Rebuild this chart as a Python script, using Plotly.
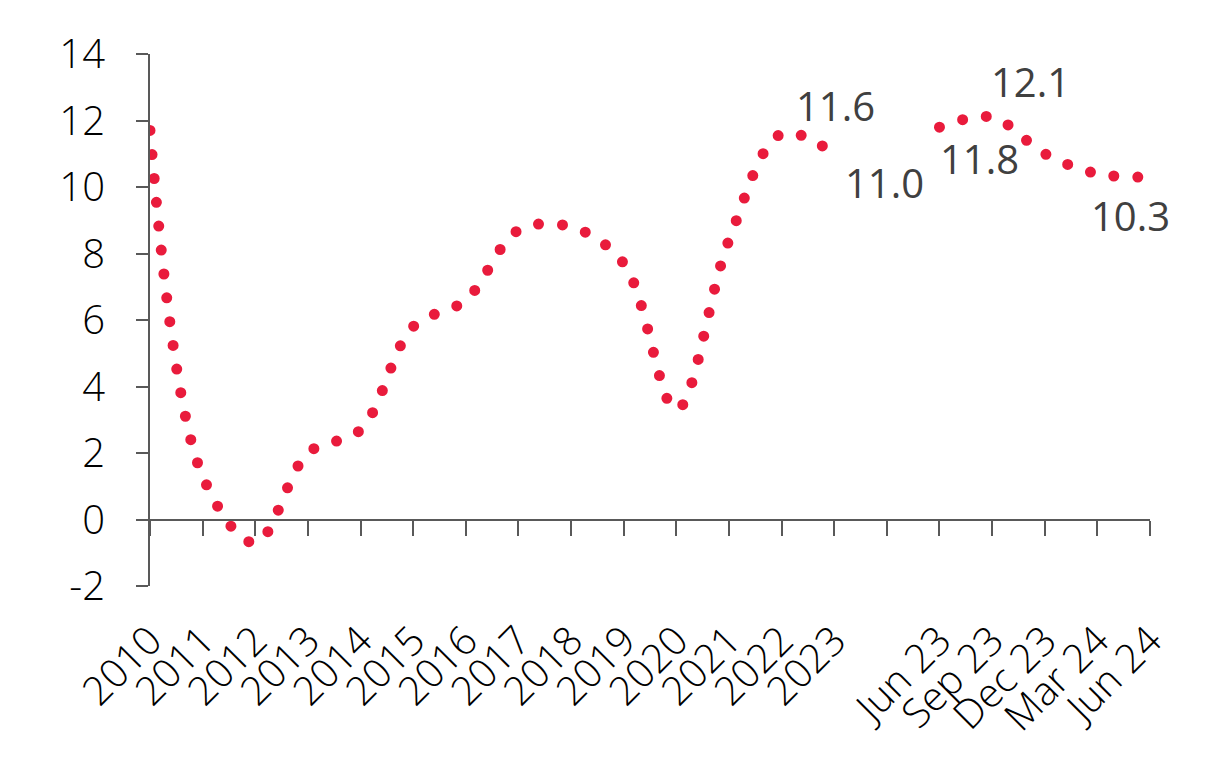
import plotly.graph_objects as go

categories = ["2010", "2011", "2012", "2013", "2014", "2015", "2016", "2017", "2018",
              "2019", "2020", "2021", "2022", "2023", "", "Jun 23", "Sep 23",
              "Dec 23", "Mar 24", "Jun 24"]
values = [11.7, 1.3, -0.7, 2.0, 2.7, 5.8, 6.6, 8.7, 8.8, 7.7, 3.3, 8.4, 11.6, 11.0,
          None, 11.8, 12.1, 11.0, 10.4, 10.3]
ytick_vals = [-2, 0, 2, 4, 6, 8, 10, 12, 14]
ytick_text = ["-2", "0", "2", "4", "6", "8", "10", "12", "14"]
labelled = ["2022", "2023", "Jun 23", "Sep 23", "Jun 24"]

idx = list(range(len(categories)))
RED = "#E91B3C"
AXIS = "#595959"
FONT = "Open Sans"

fig = go.Figure()
# invisible carrier so the zero-crossing category axis is drawn
fig.add_trace(go.Scatter(
    x=idx, y=values, xaxis="x2", mode="lines", opacity=0,
    line=dict(width=0), hoverinfo="skip", showlegend=False,
))
fig.add_trace(go.Scatter(
    x=idx, y=values, mode="lines",
    line=dict(color=RED, width=11, dash="0px,24px", shape="spline", smoothing=1),
    connectgaps=False, hoverinfo="skip", showlegend=False,
))

# label placement (style only)
place = {
    "2022": dict(xanchor="left", xshift=12, yshift=28),
    "2023": dict(xanchor="left", xshift=9, yshift=-29),
    "Jun 23": dict(xanchor="left", xshift=-1, yshift=-31),
    "Sep 23": dict(xanchor="left", xshift=-3, yshift=36),
    "Jun 24": dict(xanchor="center", xshift=-20, yshift=-38),
}
for cat in labelled:
    i = categories.index(cat)
    fig.add_annotation(
        x=i, y=values[i], xref="x", yref="y", text=f"{values[i]:.1f}",
        showarrow=False, yanchor="middle",
        font=dict(family=FONT, size=40, color="#404040"),
        **place[cat],
    )

fig.update_layout(
    width=1224, height=768,
    margin=dict(l=150, r=74, t=54, b=182, autoexpand=False),
    paper_bgcolor="white", plot_bgcolor="white",
    showlegend=False,
    xaxis=dict(
        range=[0, len(categories) - 1], tickmode="array", tickvals=idx,
        ticktext=categories, tickangle=-45, showline=False, showgrid=False,
        zeroline=False, ticks="outside", ticklen=14, tickcolor="rgba(0,0,0,0)",
        tickfont=dict(family=FONT, size=40, color="black", weight=300),
        fixedrange=True, automargin=False,
    ),
    xaxis2=dict(
        overlaying="x", matches="x", anchor="free", position=0.125,
        range=[0, len(categories) - 1], tickmode="array", tickvals=idx,
        showticklabels=False, showline=True, linecolor=AXIS, linewidth=2,
        ticks="outside", ticklen=15, tickwidth=2, tickcolor=AXIS,
        showgrid=False, zeroline=False, automargin=False,
    ),
    yaxis=dict(
        range=[-2, 14], tickmode="array", tickvals=ytick_vals, ticktext=ytick_text,
        showline=True, linecolor=AXIS, linewidth=2, ticks="outside", ticklen=12,
        tickwidth=2, tickcolor=AXIS, showgrid=False, zeroline=False,
        ticklabelstandoff=23, automargin=False,
        tickfont=dict(family=FONT, size=40, color="black", weight=300),
    ),
)

post = ("var s=document.createElement('style');"
        "s.innerHTML='html,body{margin:0;padding:0;}"
        ".scatterlayer .js-line{stroke-linecap:round !important;}';"
        "document.head.appendChild(s);")
fig.write_html("out.html", config={"displayModeBar": False}, post_script=post)
